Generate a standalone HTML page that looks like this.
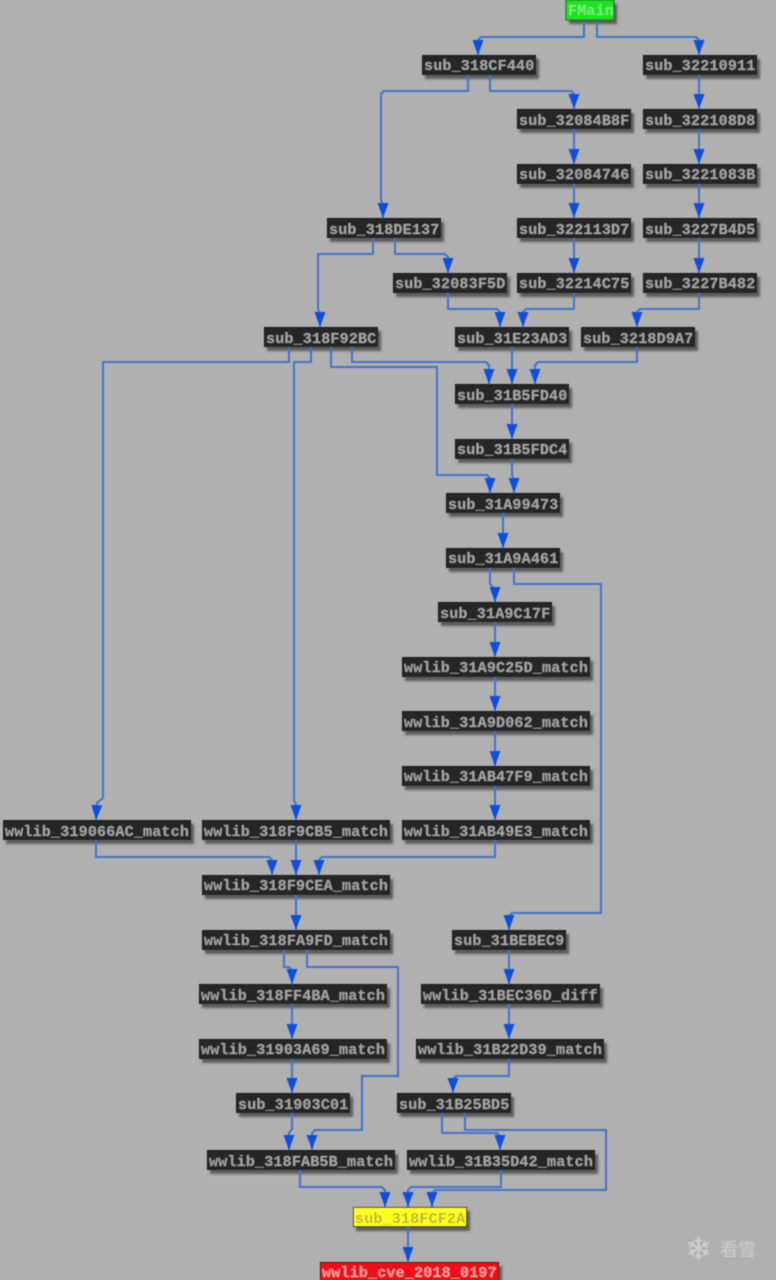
<!DOCTYPE html>
<html>
<head>
<meta charset="utf-8">
<style>
html,body{margin:0;padding:0;background:#b0b0b0;width:776px;height:1280px;overflow:hidden}
svg{display:block;position:absolute;left:0;top:0}
.e polyline{fill:none;stroke:#4272cb;stroke-width:2;marker-end:url(#a)}
.s rect{fill:#5c5c5c}
.n rect{fill:#272727;stroke:#1a1a1a;stroke-width:1}
.n text{font-family:"Liberation Mono",monospace;font-weight:bold;font-size:15px;letter-spacing:.2px;fill:#a4a4a4}
</style>
</head>
<body>
<svg width="776" height="1280" viewBox="0 0 776 1280" xmlns="http://www.w3.org/2000/svg">
<defs>
<marker id="a" markerUnits="userSpaceOnUse" markerWidth="15" markerHeight="12" viewBox="0 0 15 12" refX="15" refY="6" orient="auto"><path d="M0,.5 L15,6 L0,11.5 z" fill="#0d4fdc"/></marker>
<filter id="b" x="-5%" y="-5%" width="110%" height="110%"><feGaussianBlur stdDeviation="0.5"/></filter>
<filter id="c" x="-20%" y="-50%" width="140%" height="200%"><feGaussianBlur stdDeviation="1"/></filter>
</defs>
<rect width="776" height="1280" fill="#b0b0b0"/>
<g filter="url(#b)">
<g class="s" filter="url(#c)">
<rect x="569" y="4" width="48" height="20"/>
<rect x="425" y="59" width="114" height="20"/><rect x="646" y="59" width="114" height="20"/>
<rect x="520" y="113" width="114" height="20"/><rect x="646" y="113" width="114" height="20"/>
<rect x="520" y="168" width="114" height="20"/><rect x="646" y="168" width="114" height="20"/>
<rect x="330" y="222" width="114" height="20"/><rect x="520" y="222" width="114" height="20"/><rect x="646" y="222" width="114" height="20"/>
<rect x="396" y="277" width="114" height="20"/><rect x="520" y="277" width="114" height="20"/><rect x="646" y="277" width="114" height="20"/>
<rect x="267" y="331" width="114" height="20"/><rect x="458" y="331" width="114" height="20"/><rect x="584" y="331" width="114" height="20"/>
<rect x="458" y="388" width="114" height="20"/><rect x="458" y="443" width="114" height="20"/>
<rect x="449" y="497" width="114" height="20"/><rect x="449" y="552" width="114" height="20"/>
<rect x="441" y="606" width="114" height="20"/>
<rect x="405" y="661" width="188" height="20"/><rect x="405" y="715" width="188" height="20"/><rect x="405" y="770" width="188" height="20"/><rect x="405" y="824" width="188" height="20"/>
<rect x="6" y="824" width="188" height="20"/><rect x="205" y="824" width="188" height="20"/>
<rect x="205" y="879" width="188" height="20"/><rect x="205" y="934" width="188" height="20"/>
<rect x="455" y="934" width="114" height="20"/>
<rect x="202" y="988" width="188" height="20"/><rect x="424" y="988" width="179" height="20"/>
<rect x="202" y="1043" width="188" height="20"/><rect x="419" y="1043" width="188" height="20"/>
<rect x="239" y="1097" width="114" height="20"/><rect x="400" y="1097" width="114" height="20"/>
<rect x="210" y="1154" width="188" height="20"/><rect x="410" y="1154" width="188" height="20"/>
<rect x="356" y="1211" width="114" height="20"/><rect x="323" y="1266" width="179" height="20"/>
</g>
<g class="e">
<polyline points="584,20 584,37 481,37 478,40 478,55"/>
<polyline points="597,20 597,37 696,37 699,40 699,55"/>
<polyline points="468,75 468,91 384,91 381,94 381,200 383,205 383,218"/>
<polyline points="490,75 490,91 571,91 574,94 574,109"/>
<polyline points="699,75 699,109"/><polyline points="699,129 699,164"/><polyline points="699,184 699,218"/><polyline points="699,238 699,273"/>
<polyline points="574,129 574,164"/><polyline points="574,184 574,218"/><polyline points="574,238 574,273"/>
<polyline points="373,238 373,254 318,254 318,309 320,314 320,327"/>
<polyline points="395,238 395,254 445,254 448,257 448,273"/>
<polyline points="448,293 448,309 497,309 500,312 500,327"/>
<polyline points="574,293 574,309 526,309 523,312 523,327"/>
<polyline points="699,293 699,309 640,309 637,312 637,327"/>
<polyline points="289,347 289,362 103,362 103,798 97,803 96,820"/>
<polyline points="311,347 311,362 294,362 294,800 296,805 296,820"/>
<polyline points="331,347 331,367 437,367 437,475 487,475 490,478 490,493"/>
<polyline points="352,347 352,362 486,362 489,365 489,384"/>
<polyline points="512,347 512,384"/>
<polyline points="637,347 637,362 538,362 535,365 535,384"/>
<polyline points="512,404 512,439"/>
<polyline points="512,459 512,475 514,480 514,493"/>
<polyline points="503,513 503,548"/>
<polyline points="490,568 490,584 495,589 495,602"/>
<polyline points="514,568 514,584 601,584 601,913 512,913 509,916 509,930"/>
<polyline points="495,622 495,657"/><polyline points="495,677 495,711"/><polyline points="495,731 495,766"/><polyline points="495,786 495,820"/>
<polyline points="495,840 495,857 322,857 319,860 319,875"/>
<polyline points="96,840 96,857 269,857 272,860 272,875"/>
<polyline points="296,840 296,875"/><polyline points="296,895 296,930"/>
<polyline points="284,950 284,967 289,967 292,970 292,984"/>
<polyline points="307,950 307,967 398,967 398,1076 362,1076 362,1130 315,1130 312,1133 312,1150"/>
<polyline points="292,1004 292,1039"/><polyline points="292,1059 292,1093"/>
<polyline points="292,1113 292,1129 289,1133 289,1150"/>
<polyline points="509,950 509,984"/><polyline points="509,1004 509,1039"/>
<polyline points="509,1059 509,1076 456,1076 453,1079 453,1093"/>
<polyline points="442,1113 442,1133 497,1133 500,1136 500,1150"/>
<polyline points="465,1113 465,1130 606,1130 606,1190 435,1190 432,1193 432,1207"/>
<polyline points="501,1170 501,1187 411,1187 408,1190 408,1207"/>
<polyline points="300,1170 300,1187 382,1187 385,1190 385,1207"/>
<polyline points="408,1227 408,1262"/>
</g>
<g class="n">
<rect x="566" y="0" width="48" height="20" style="fill:#22e022;stroke:#063"/><text x="568" y="15" style="fill:#78ec78">FMain</text>
<rect x="422.500" y="55.500" width="113" height="19"/><text x="424" y="70">sub_318CF440</text>
<rect x="643.500" y="55.500" width="113" height="19"/><text x="645" y="70">sub_32210911</text>
<rect x="517.500" y="109.500" width="113" height="19"/><text x="519" y="125">sub_32084B8F</text>
<rect x="643.500" y="109.500" width="113" height="19"/><text x="645" y="125">sub_322108D8</text>
<rect x="517.500" y="164.500" width="113" height="19"/><text x="519" y="179">sub_32084746</text>
<rect x="643.500" y="164.500" width="113" height="19"/><text x="645" y="179">sub_3221083B</text>
<rect x="327.500" y="218.500" width="113" height="19"/><text x="329" y="234">sub_318DE137</text>
<rect x="517.500" y="218.500" width="113" height="19"/><text x="519" y="234">sub_322113D7</text>
<rect x="643.500" y="218.500" width="113" height="19"/><text x="645" y="234">sub_3227B4D5</text>
<rect x="393.500" y="273.500" width="113" height="19"/><text x="395" y="288">sub_32083F5D</text>
<rect x="517.500" y="273.500" width="113" height="19"/><text x="519" y="288">sub_32214C75</text>
<rect x="643.500" y="273.500" width="113" height="19"/><text x="645" y="288">sub_3227B482</text>
<rect x="264.500" y="327.500" width="113" height="19"/><text x="266" y="343">sub_318F92BC</text>
<rect x="455.500" y="327.500" width="113" height="19"/><text x="457" y="343">sub_31E23AD3</text>
<rect x="581.500" y="327.500" width="113" height="19"/><text x="583" y="343">sub_3218D9A7</text>
<rect x="455.500" y="384.500" width="113" height="19"/><text x="457" y="400">sub_31B5FD40</text>
<rect x="455.500" y="439.500" width="113" height="19"/><text x="457" y="454">sub_31B5FDC4</text>
<rect x="446.500" y="493.500" width="113" height="19"/><text x="448" y="509">sub_31A99473</text>
<rect x="446.500" y="548.500" width="113" height="19"/><text x="448" y="563">sub_31A9A461</text>
<rect x="438.500" y="602.500" width="113" height="19"/><text x="440" y="618">sub_31A9C17F</text>
<rect x="402.500" y="657.500" width="187" height="19"/><text x="404" y="672">wwlib_31A9C25D_match</text>
<rect x="402.500" y="711.500" width="187" height="19"/><text x="404" y="727">wwlib_31A9D062_match</text>
<rect x="402.500" y="766.500" width="187" height="19"/><text x="404" y="781">wwlib_31AB47F9_match</text>
<rect x="402.500" y="820.500" width="187" height="19"/><text x="404" y="836">wwlib_31AB49E3_match</text>
<rect x="3.500" y="820.500" width="187" height="19"/><text x="5" y="836">wwlib_319066AC_match</text>
<rect x="202.500" y="820.500" width="187" height="19"/><text x="204" y="836">wwlib_318F9CB5_match</text>
<rect x="202.500" y="875.500" width="187" height="19"/><text x="204" y="890">wwlib_318F9CEA_match</text>
<rect x="202.500" y="930.500" width="187" height="19"/><text x="204" y="945">wwlib_318FA9FD_match</text>
<rect x="452.500" y="930.500" width="113" height="19"/><text x="454" y="945">sub_31BEBEC9</text>
<rect x="199.500" y="984.500" width="187" height="19"/><text x="201" y="1000">wwlib_318FF4BA_match</text>
<rect x="421.500" y="984.500" width="178" height="19"/><text x="423" y="1000">wwlib_31BEC36D_diff</text>
<rect x="199.500" y="1039.500" width="187" height="19"/><text x="201" y="1054">wwlib_31903A69_match</text>
<rect x="416.500" y="1039.500" width="187" height="19"/><text x="418" y="1054">wwlib_31B22D39_match</text>
<rect x="236.500" y="1093.500" width="113" height="19"/><text x="238" y="1109">sub_31903C01</text>
<rect x="397.500" y="1093.500" width="113" height="19"/><text x="399" y="1109">sub_31B25BD5</text>
<rect x="207.500" y="1150.500" width="187" height="19"/><text x="209" y="1166">wwlib_318FAB5B_match</text>
<rect x="407.500" y="1150.500" width="187" height="19"/><text x="409" y="1166">wwlib_31B35D42_match</text>
<rect x="353.500" y="1207.500" width="113" height="19" style="fill:#ffff22;stroke:#333300"/><text x="355" y="1223" style="fill:#b8b838">sub_318FCF2A</text>
<rect x="320.500" y="1262.500" width="178" height="19" style="fill:#f00c14;stroke:#501010"/><text x="322" y="1277" style="fill:#f2a0a0">wwlib_cve_2018_0197</text>
</g>
</g>
<g filter="url(#b)" fill="#cfcfcf">
<text x="685" y="1260" font-family="'DejaVu Sans',sans-serif" font-size="32">❄</text>
<text x="720" y="1256" font-family="'Noto Sans CJK SC',sans-serif" font-size="18">看雪</text>
</g>
</svg>
</body>
</html>
